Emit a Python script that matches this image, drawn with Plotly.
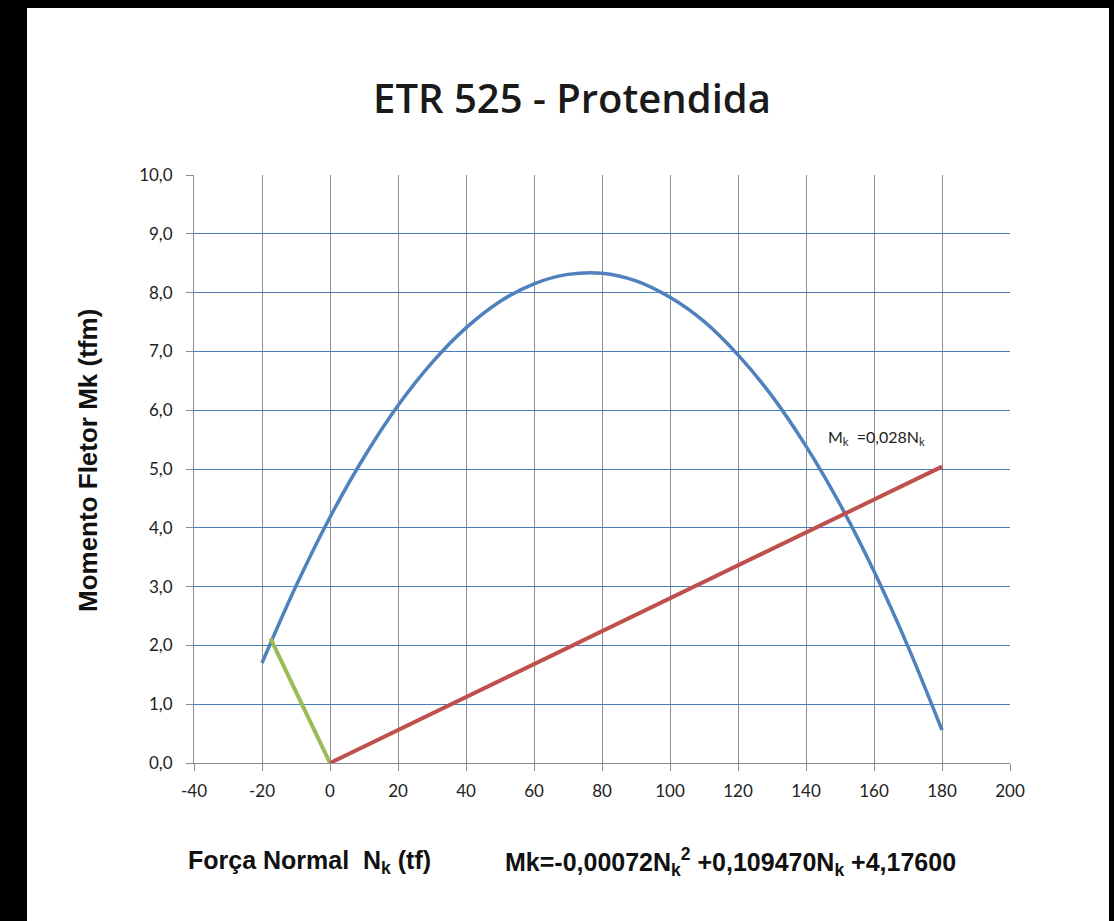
import plotly.graph_objects as go

# ---- data ----
curve_n = [-20, -10, 0, 10, 20, 30, 40, 50, 60, 70, 80, 90, 100, 110, 120, 130, 140, 150, 160, 170, 180]
curve_mk = [1.70, 3.01, 4.18, 5.20, 6.08, 6.81, 7.40, 7.85, 8.15, 8.31, 8.33, 8.20, 7.92, 7.51, 6.94,
            6.24, 5.39, 4.40, 3.26, 1.98, 0.56]
green_n = [-17.5, 0]
green_mk = [2.12, 0.0]
red_n = [0, 180]
red_mk = [0.0, 5.04]

x_ticks = [-40, -20, 0, 20, 40, 60, 80, 100, 120, 140, 160, 180, 200]
x_tick_labels = ["-40", "-20", "0", "20", "40", "60", "80", "100", "120", "140", "160", "180", "200"]
y_ticks = [0, 1, 2, 3, 4, 5, 6, 7, 8, 9, 10]

title_text = "ETR 525 - Protendida"
y_title = "Momento Fletor Mk (tfm)"
x_title = "Força Normal  N<sub>k</sub> (tf)"
formula = "Mk=-0,00072N<sub>k</sub><sup>2</sup> +0,109470N<sub>k</sub> +4,17600"
line_label = "M<sub>k</sub>  =0,028N<sub>k</sub>"

W, H = 1114, 921
L, R, T, B = 194, 1010, 175, 763


def px(xp):
    return (xp - L) / (R - L)


def py(yp):
    return (B - yp) / (B - T)


fig = go.Figure()
fig.add_trace(go.Scatter(x=curve_n, y=curve_mk, mode="lines", line=dict(color="#4f81bd", width=3.5, shape="spline"),
                         showlegend=False, hoverinfo="skip"))
fig.add_trace(go.Scatter(x=green_n, y=green_mk, mode="lines", line=dict(color="#9bbb59", width=4),
                         showlegend=False, hoverinfo="skip"))
fig.add_trace(go.Scatter(x=red_n, y=red_mk, mode="lines", line=dict(color="#c0504d", width=4),
                         showlegend=False, hoverinfo="skip"))

tick_font = dict(family="Lato", size=17, color="#222222")

fig.update_layout(
    width=W, height=H,
    margin=dict(l=L, r=W - R, t=T, b=H - B),
    paper_bgcolor="white", plot_bgcolor="white",
    separators=",.",
    title=dict(text=title_text, x=572 / W, xref="container", xanchor="center",
               y=1 - 99 / H, yref="container", yanchor="middle",
               font=dict(family="Open Sans", size=40, color="#1a1a1a", weight=600)),
    xaxis=dict(range=[-40, 200], tickvals=x_ticks, ticktext=x_tick_labels, showgrid=True, gridcolor="#8c8c8c",
               gridwidth=1, zeroline=False, showline=True, linecolor="#8c8c8c", linewidth=1,
               ticks="outside", ticklen=7, tickcolor="#8c8c8c", tickfont=tick_font, ticklabelstandoff=6),
    yaxis=dict(range=[0, 10], tickvals=y_ticks, tickformat=".1f", showgrid=True, gridcolor="#4a7ebb",
               gridwidth=1, zeroline=False, showline=True, linecolor="#8c8c8c", linewidth=1,
               ticks="outside", ticklen=7, tickcolor="#8c8c8c", tickfont=tick_font, ticklabelstandoff=10),
)

fig.add_annotation(text=y_title, xref="paper", yref="paper", x=px(88), y=py(460), textangle=-90,
                   showarrow=False, xanchor="center", yanchor="middle",
                   font=dict(family="Liberation Sans", size=26, color="#111111", weight="bold"))
fig.add_annotation(text=x_title, xref="paper", yref="paper", x=px(186), y=py(862),
                   showarrow=False, xanchor="left", yanchor="middle",
                   font=dict(family="Liberation Sans", size=25, color="#111111", weight="bold"))
fig.add_annotation(text=formula, xref="paper", yref="paper", x=px(503), y=py(862),
                   showarrow=False, xanchor="left", yanchor="middle",
                   font=dict(family="Liberation Sans", size=25, color="#111111", weight="bold"))
fig.add_annotation(text=line_label, x=146, y=5.54, showarrow=False, xanchor="left", yanchor="middle",
                   font=dict(family="Lato", size=16, color="#222222"))

# black frame of the scanned page
for x0, x1, y0, y1 in [(0, 27, 0, H), (0, W, 0, 8), (1109, W, 0, H)]:
    fig.add_shape(type="rect", xref="paper", yref="paper", x0=px(x0), x1=px(x1), y0=py(y1), y1=py(y0),
                  fillcolor="black", line=dict(width=0), layer="above")

fig.write_html("out.html", config={"displayModeBar": False},
               post_script="document.body.style.margin='0';document.body.style.overflow='hidden';")
